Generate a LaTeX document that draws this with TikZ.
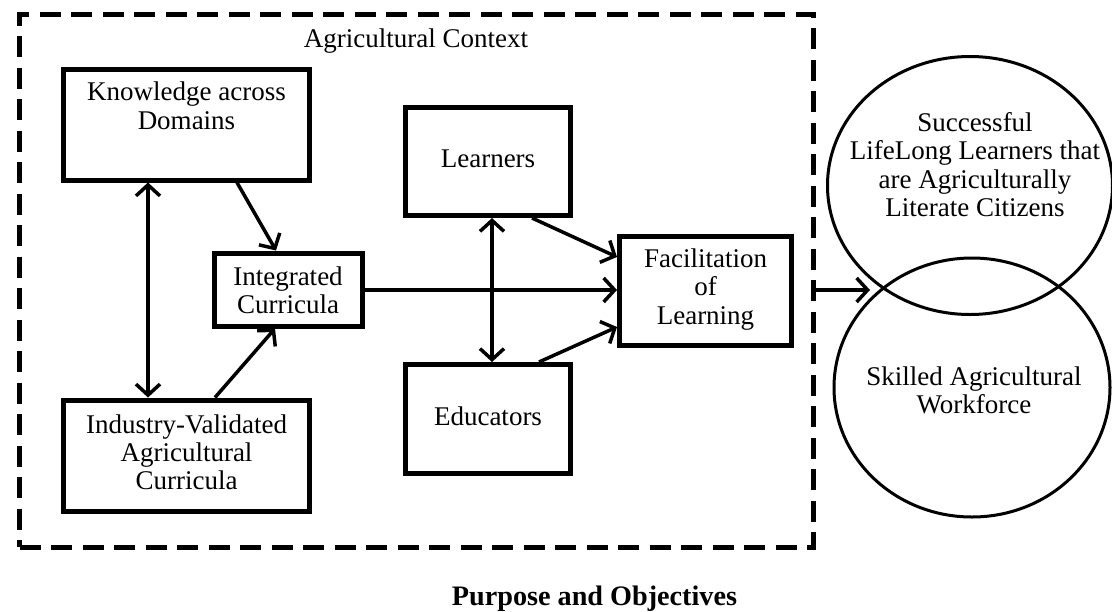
\documentclass[tikz,border=0pt]{standalone}
\usepackage{fontspec}
\setmainfont{Liberation Serif}
\usetikzlibrary{arrows.meta,shapes.geometric}
\begin{document}
\begin{tikzpicture}[x=1pt,y=-1pt,
  box/.style={draw,line width=5pt,rectangle,inner sep=0pt},
  lbl/.style={anchor=base,inner sep=0pt,font=\fontsize{27}{28}\selectfont},
  tip/.style={},
  arr/.style={line width=3.5pt,-{Straight Barb[length=11pt,width=24pt]}},
  dbl/.style={line width=3.5pt,{Straight Barb[length=11pt,width=24pt]}-{Straight Barb[length=11pt,width=24pt]}},
  oval/.style={draw,ellipse,line width=3pt,inner sep=0pt},
  frame/.style={draw,rectangle,line width=5pt,dash pattern=on 21pt off 10.5pt,inner sep=0pt}]
\useasboundingbox (0,0) rectangle (1112,611);
\fill[white] (0,0) rectangle (1112,611);

% context frame
\node[frame,minimum width=793.5pt,minimum height=533pt] (ctx) at (416.25,280.5) {};
\node[lbl] (ctxlbl) at (416,47) {Agricultural Context};

% boxes
\node[box,minimum width=246pt,minimum height=110.5pt] (know) at (186.5,124.75) {};
\node[box,minimum width=148pt,minimum height=73pt] (integ) at (288,289.5) {};
\node[box,minimum width=246pt,minimum height=111pt] (ind) at (186.5,455.5) {};
\node[box,minimum width=165pt,minimum height=108pt] (learn) at (488,161.5) {};
\node[box,minimum width=165pt,minimum height=109pt] (edu) at (488,419) {};
\node[box,minimum width=172pt,minimum height=109pt] (facil) at (705.5,291) {};

% box labels
\node[lbl] (know1) at (186.5,100) {Knowledge across};
\node[lbl] (know2) at (186.5,129) {Domains};
\node[lbl] (integ1) at (288,285) {Integrated};
\node[lbl] (integ2) at (288,313) {Curricula};
\node[lbl] (ind1) at (186.5,433) {Industry-Validated};
\node[lbl] (ind2) at (186.5,461) {Agricultural};
\node[lbl] (ind3) at (186.5,489) {Curricula};
\node[lbl] (learn1) at (488,167) {Learners};
\node[lbl] (edu1) at (488,425) {Educators};
\node[lbl] (facil1) at (705.5,267) {Facilitation};
\node[lbl] (facil2) at (705.5,295) {of};
\node[lbl] (facil3) at (705.5,324) {Learning};

% outcome ellipses
\node[oval,minimum width=285pt,minimum height=258pt] (succ) at (970,185.5) {};
\node[oval,minimum width=276pt,minimum height=259pt] (skill) at (972,387.5) {};
\node[lbl] (succ1) at (975,131) {Successful};
\node[lbl] (succ2) at (975,159) {LifeLong Learners that};
\node[lbl] (succ3) at (975,188) {are Agriculturally};
\node[lbl] (succ4) at (975,216) {Literate Citizens};
\node[lbl] (skill1) at (974,385) {Skilled Agricultural};
\node[lbl] (skill2) at (974,413) {Workforce};
\coordinate (meet) at (870,290);

% connectors
\draw[dbl] (know.south -| 148,0) -- (ind.north -| 148,0);
\draw[arr] (know.south -| 237,0) -- (integ.north -| 276,0);
\draw[arr] (ind.north -| 215,0) -- (integ.south -| 275,0);
\draw[arr] (integ.east |- 0,290) -- (facil.west |- 0,290);
\draw[dbl] (learn.south -| 492,0) -- (edu.north -| 492,0);
\draw[arr] (learn.south -| 532,0) -- (facil.west |- 0,257);
\draw[arr] (edu.north -| 539,0) -- (facil.west |- 0,327);
\draw[arr] (ctx.east |- 0,290) -- (meet);

% title
\node[anchor=base,inner sep=0pt,font=\fontsize{28.2}{30}\selectfont\bfseries] (title) at (594.5,605) {Purpose and Objectives};
\end{tikzpicture}
\end{document}
